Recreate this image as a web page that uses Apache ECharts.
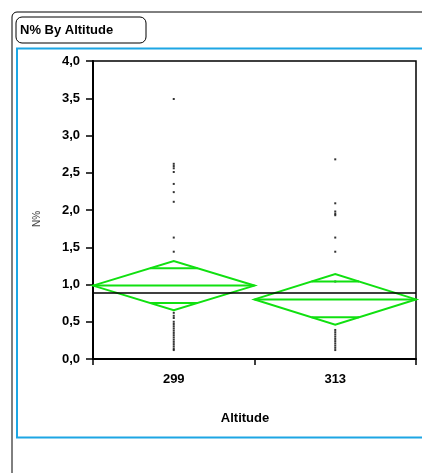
<!DOCTYPE html>
<html>
<head>
<meta charset="utf-8">
<script src="https://cdn.jsdelivr.net/npm/echarts@6/dist/echarts.min.js"></script>
<style>
  html, body { margin: 0; padding: 0; background: #fff; }
  #chart { width: 422px; height: 473px; }
</style>
</head>
<body>
<div id="chart"></div>
<script>
// Altitude groups
var categories = ['299', '313'];

// Group means and 95% confidence limits (means diamonds)
var groupMeans = [0.985, 0.80];
var ciLower = [0.655, 0.46];
var ciUpper = [1.315, 1.14];
// Overlap marks
var overlapLower = [0.752, 0.56];
var overlapUpper = [1.218, 1.04];

// Grand mean over all observations
var grandMean = 0.89;

// Individual observations per group
var values299 = [3.49, 2.62, 2.59, 2.56, 2.51, 2.35, 2.24, 2.11, 1.63, 1.44,
  0.62, 0.58, 0.55, 0.50, 0.47, 0.44, 0.41, 0.38, 0.35, 0.32, 0.29, 0.26,
  0.23, 0.20, 0.17, 0.14, 0.12];
var values313 = [2.68, 2.09, 1.98, 1.95, 1.93, 1.63, 1.44, 1.04,
  0.39, 0.36, 0.33, 0.30, 0.27, 0.24, 0.21, 0.18, 0.15, 0.12];

// Y axis tick values
var yTicks = [0, 0.5, 1, 1.5, 2, 2.5, 3, 3.5, 4];

var pointData = [];
values299.forEach(function (v) { pointData.push([categories[0], v]); });
values313.forEach(function (v) { pointData.push([categories[1], v]); });

var diamondData = categories.map(function (c, i) {
  return [i, groupMeans[i], ciLower[i], ciUpper[i], overlapLower[i], overlapUpper[i]];
});

var GREEN = '#10e010';

function renderDiamond(params, api) {
  var idx = api.value(0);
  var mid = api.coord([idx, api.value(1)]);
  var bot = api.coord([idx, api.value(2)]);
  var top = api.coord([idx, api.value(3)]);
  var ovLo = api.coord([idx, api.value(4)]);
  var ovHi = api.coord([idx, api.value(5)]);
  var hw = api.size([1, 0])[0] / 2;
  var cx = mid[0];
  var cy = mid[1];
  var style = { stroke: GREEN, lineWidth: 2, fill: null };
  function chordAt(y, tipY) {
    var w = hw * (y - tipY) / (cy - tipY);
    return { type: 'line', shape: { x1: cx - w, y1: y, x2: cx + w, y2: y }, style: style };
  }
  return {
    type: 'group',
    children: [
      {
        type: 'polygon',
        shape: { points: [[cx - hw, cy], [cx, top[1]], [cx + hw, cy], [cx, bot[1]]] },
        style: style
      },
      { type: 'line', shape: { x1: cx - hw, y1: cy, x2: cx + hw, y2: cy }, style: style },
      chordAt(ovHi[1], top[1]),
      chordAt(ovLo[1], bot[1])
    ]
  };
}

var chart = echarts.init(document.getElementById('chart'), null, { renderer: 'canvas' });

var labelFont = { fontFamily: 'Liberation Sans, Arial, sans-serif', fontWeight: 'bold', fontSize: 13, color: '#000' };

chart.setOption({
  animation: false,
  backgroundColor: '#fff',
  grid: {
    left: 93, top: 61, right: 6, bottom: 114,
    show: true, borderColor: '#000', borderWidth: 1.5, backgroundColor: 'transparent'
  },
  xAxis: {
    type: 'category',
    data: categories,
    boundaryGap: true,
    axisLine: { lineStyle: { color: '#000', width: 2 } },
    axisTick: { show: true, length: 6, lineStyle: { color: '#000', width: 1.5 } },
    axisLabel: Object.assign({ margin: 14 }, labelFont),
    splitLine: { show: false }
  },
  yAxis: {
    type: 'value',
    min: 0, max: 4, interval: 0.5,
    axisLine: { show: true, lineStyle: { color: '#000', width: 2 } },
    axisTick: { show: true, length: 7, lineStyle: { color: '#000', width: 1.5 } },
    axisLabel: Object.assign({
      margin: 13,
      formatter: function (v) {
        var t = yTicks.indexOf(v) >= 0 ? v.toFixed(1) : '';
        return t.replace('.', ',');
      }
    }, labelFont),
    splitLine: { show: false }
  },
  graphic: [
    {
      type: 'rect', silent: true,
      shape: { x: 12, y: 12, width: 430, height: 480, r: 5 },
      style: { fill: null, stroke: '#000', lineWidth: 1 }
    },
    {
      type: 'rect', silent: true,
      shape: { x: 16, y: 17, width: 130, height: 26, r: 6 },
      style: { fill: '#fff', stroke: '#000', lineWidth: 1 }
    },
    {
      type: 'text', silent: true, x: 20, y: 30,
      style: {
        text: 'N% By Altitude', fill: '#000',
        font: 'bold 13px "Liberation Sans", Arial, sans-serif',
        verticalAlign: 'middle', align: 'left'
      }
    },
    {
      type: 'rect', silent: true, z: -1,
      shape: { x: 17, y: 48.5, width: 420, height: 389 },
      style: { fill: null, stroke: '#1da6e4', lineWidth: 2 }
    },
    {
      type: 'text', silent: true, x: 245, y: 418,
      style: {
        text: 'Altitude', fill: '#000',
        font: 'bold 13px "Liberation Sans", Arial, sans-serif',
        align: 'center', verticalAlign: 'middle'
      }
    },
    {
      type: 'text', silent: true, x: 37, y: 219, rotation: Math.PI / 2,
      style: {
        text: 'N%', fill: '#444',
        font: '10px "Liberation Sans", Arial, sans-serif',
        align: 'center', verticalAlign: 'middle'
      }
    }
  ],
  series: [
    {
      type: 'scatter',
      data: pointData,
      symbol: 'rect',
      symbolSize: 2,
      itemStyle: { color: '#000' },
      z: 2,
      markLine: {
        silent: true,
        symbol: 'none',
        label: { show: false },
        lineStyle: { color: '#000', width: 1.5, type: 'solid' },
        data: [{ yAxis: grandMean }]
      }
    },
    {
      type: 'custom',
      renderItem: renderDiamond,
      data: diamondData,
      z: 3
    }
  ]
});
</script>
</body>
</html>
